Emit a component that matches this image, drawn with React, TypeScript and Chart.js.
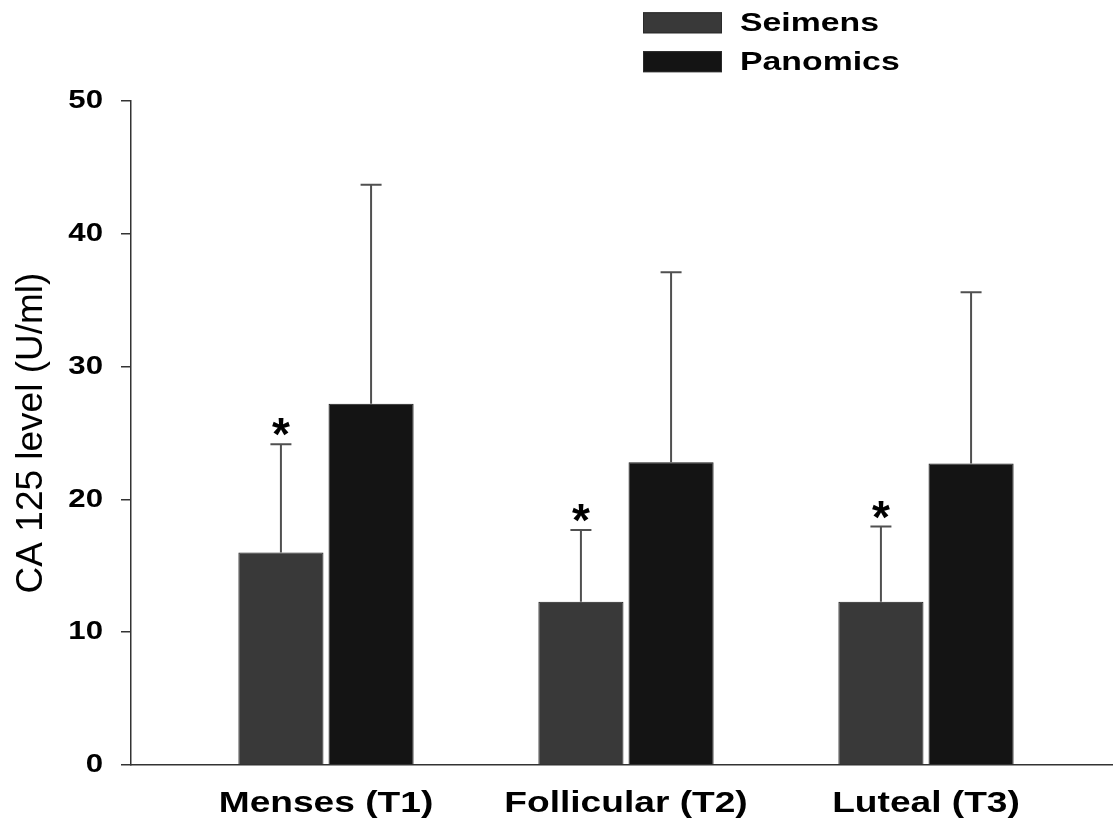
import React, { useEffect, useRef } from "react";
import { Chart, registerables } from "chart.js";

Chart.register(...registerables);

// ---- data ----
const categories = ["Menses (T1)", "Follicular (T2)", "Luteal (T3)"];
const seriesNames = ["Seimens", "Panomics"];
const seimensMean = [16.0, 12.3, 12.3];
const seimensSD = [8.15, 5.4, 5.65];
const panomicsMean = [27.2, 22.8, 22.7];
const panomicsSD = [16.5, 14.3, 12.9];
// Seimens groups flagged as significantly different from Panomics
const seimensStar = [true, true, true];
const yTicks = [0, 10, 20, 30, 40, 50];

const FONT = "'Liberation Sans', Arial, Helvetica, sans-serif";
const seriesColors = ["#393939", "#141414"];

const W = 1117;
const H = 829;

// Draw text widened horizontally around its anchor point
function wideText(ctx: any, text: string, x: number, y: number, sx: number, fill: any) {
  ctx.save();
  ctx.translate(x, y);
  ctx.scale(sx, 1);
  fill.call(ctx, text, 0, 0);
  ctx.restore();
}

// Scale callback: force the box size and draw the tick labels in a wide face
function fixScale(size: { width?: number; height?: number }, sx: number) {
  return (s: any) => {
    if (size.width !== undefined) s.width = size.width;
    if (size.height !== undefined) s.height = size.height;
    if (!s.$wide) {
      const orig = s.drawLabels;
      s.drawLabels = function (area: any) {
        const ctx = this.ctx;
        const fill = ctx.fillText;
        ctx.fillText = function (text: string, x: number, y: number) {
          wideText(ctx, text, x, y, sx, fill);
        };
        try {
          orig.call(this, area);
        } finally {
          delete ctx.fillText;
        }
      };
      s.$wide = true;
    }
  };
}

// Upper-only SD whiskers plus significance asterisks
const errorBarPlugin = {
  id: "errorBars",
  afterDatasetsDraw(chart: any) {
    const { ctx } = chart;
    const yScale = chart.scales.y;
    chart.data.datasets.forEach((ds: any, di: number) => {
      const meta = chart.getDatasetMeta(di);
      meta.data.forEach((bar: any, i: number) => {
        const mean = ds.data[i].y;
        const sd = ds.errors[i];
        const top = yScale.getPixelForValue(mean + sd);
        const x = bar.x;
        ctx.save();
        ctx.strokeStyle = "#505050";
        ctx.lineWidth = 2;
        ctx.beginPath();
        ctx.moveTo(x, bar.y);
        ctx.lineTo(x, top);
        ctx.moveTo(x - 10.5, top);
        ctx.lineTo(x + 10.5, top);
        ctx.stroke();
        if (ds.stars && ds.stars[i]) {
          ctx.fillStyle = "#000";
          ctx.font = `bold 46px ${FONT}`;
          ctx.textAlign = "center";
          ctx.textBaseline = "alphabetic";
          ctx.fillText("*", x, top + 6);
        }
        ctx.restore();
      });
    });
  },
};

// Stacked legend in the upper right
const legendPlugin = {
  id: "stackedLegend",
  afterDraw(chart: any) {
    const { ctx } = chart;
    const boxX = 643;
    const boxW = 79;
    const boxH = 21;
    const rows = [22.8, 61.7];
    ctx.save();
    chart.data.datasets.forEach((ds: any, i: number) => {
      const cy = rows[i];
      ctx.fillStyle = ds.backgroundColor;
      ctx.fillRect(boxX, cy - boxH / 2, boxW, boxH);
      ctx.strokeStyle = "#2a2a2a";
      ctx.lineWidth = 1;
      ctx.strokeRect(boxX + 0.5, cy - boxH / 2 + 0.5, boxW - 1, boxH - 1);
      ctx.fillStyle = "#000";
      ctx.font = `bold 26px ${FONT}`;
      ctx.textAlign = "left";
      ctx.textBaseline = "middle";
      wideText(ctx, ds.label, 740, cy + 1, 1.3, ctx.fillText);
    });
    ctx.restore();
  },
};

export default function App() {
  const canvasRef = useRef<HTMLCanvasElement | null>(null);

  useEffect(() => {
    const canvas = canvasRef.current;
    if (!canvas) return;
    const makeDataset = (k: number, means: number[], sds: number[], stars: boolean[] | null) => ({
      label: seriesNames[k],
      data: categories.map((_, i) => ({ x: i, y: means[i] })),
      errors: sds,
      stars,
      backgroundColor: seriesColors[k],
      borderColor: "#1c1c1c",
      borderWidth: 1,
      categoryPercentage: 0.601,
      barPercentage: 0.944,
    });

    const chart = new Chart(canvas, {
      type: "bar",
      data: {
        datasets: [
          makeDataset(0, seimensMean, seimensSD, seimensStar),
          makeDataset(1, panomicsMean, panomicsSD, null),
        ] as any,
      },
      options: {
        animation: false,
        responsive: false,
        devicePixelRatio: 1,
        layout: { padding: { top: 101, right: 5, left: 0, bottom: 0 } },
        plugins: {
          legend: { display: false },
          tooltip: { enabled: false },
        },
        scales: {
          x: {
            type: "linear",
            offset: false,
            min: -0.65,
            max: 2.62,
            afterBuildTicks: (s: any) => {
              s.ticks = categories.map((_, i) => ({ value: i }));
            },
            afterFit: fixScale({ height: 64 }, 1.28),
            ticks: {
              callback: (v: any) => categories[v] ?? "",
              font: { family: FONT, size: 29, weight: "bold" },
              color: "#000",
              padding: 22,
              maxRotation: 0,
              autoSkip: false,
            },
            grid: { display: false, drawTicks: false, offset: false },
            border: { display: true, color: "#333", width: 1.5 },
          },
          y: {
            min: 0,
            max: 50,
            afterBuildTicks: (s: any) => {
              s.ticks = yTicks.map((v) => ({ value: v }));
            },
            afterFit: fixScale({ width: 131 }, 1.2),
            ticks: {
              font: { family: FONT, size: 26, weight: "bold" },
              color: "#000",
              padding: 18,
            },
            grid: {
              drawOnChartArea: false,
              drawTicks: true,
              tickLength: 10,
              color: "#333",
              lineWidth: 1.5,
            },
            border: { display: true, color: "#333", width: 1.5 },
            title: {
              display: true,
              text: "CA 125 level (U/ml)",
              font: { family: FONT, size: 37, weight: "normal" },
              color: "#000",
              padding: { top: 10, bottom: 0 },
            },
          },
        },
      } as any,
      plugins: [errorBarPlugin, legendPlugin],
    });
    return () => chart.destroy();
  }, []);

  return (
    <div style={{ position: "absolute", left: 0, top: 0, width: W, height: H, background: "#fff" }}>
      <canvas ref={canvasRef} width={W} height={H} />
    </div>
  );
}
